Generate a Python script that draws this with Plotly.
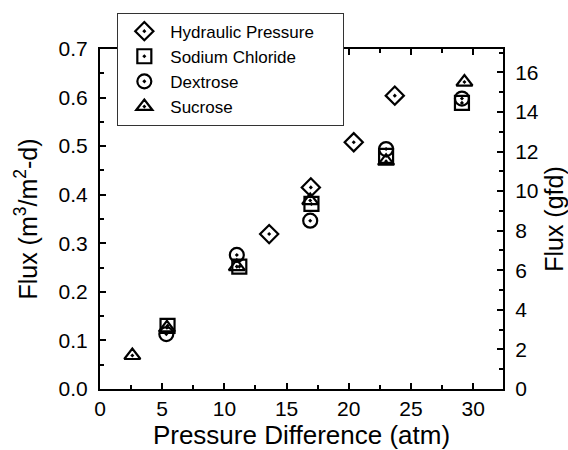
import plotly.graph_objects as go

# Data
hyd_x = [13.6, 16.95, 20.4, 23.7]
hyd_y = [0.319, 0.415, 0.508, 0.604]

nacl_x = [5.43, 11.2, 17.0, 23.0, 29.1]
nacl_y = [0.130, 0.252, 0.381, 0.480, 0.589]

dex_x = [5.33, 11.0, 16.9, 23.0, 29.1]
dex_y = [0.113, 0.276, 0.3465, 0.494, 0.598]

suc_x = [2.6, 5.38, 11.0, 16.9, 23.0, 29.3]
suc_y = [0.069, 0.126, 0.252, 0.388, 0.469, 0.632]

legend_names = ["Hydraulic Pressure", "Sodium Chloride", "Dextrose", "Sucrose"]

GFD_PER_M3M2D = 1 / 0.04074  # conversion used for the right axis

FONT = "Arial, Liberation Sans, sans-serif"
PAD = "\u00a0" * 5  # extra right padding inside the legend box

series = [
    (hyd_x, hyd_y, "diamond-open-dot"),
    (nacl_x, nacl_y, "square-open-dot"),
    (dex_x, dex_y, "circle-open-dot"),
    (suc_x, suc_y, "triangle-up-open-dot"),
]

fig = go.Figure()
for name, (xs, ys, sym) in zip(legend_names, series):
    fig.add_trace(go.Scatter(
        x=xs, y=ys, mode="markers",
        name=name + (PAD if name == legend_names[0] else ""),
        marker=dict(symbol=sym, size=14, color="black",
                    line=dict(color="black", width=2.2)),
    ))

# invisible companion trace so the right (gfd) axis is drawn
fig.add_trace(go.Scatter(
    x=suc_x, y=[v * GFD_PER_M3M2D for v in suc_y], yaxis="y2",
    mode="markers", marker=dict(opacity=0), showlegend=False,
    hoverinfo="skip",
))

ymax = 0.7
fig.update_layout(
    width=568, height=450,
    margin=dict(l=100, r=65, t=49, b=61, autoexpand=False),
    paper_bgcolor="white", plot_bgcolor="white",
    font=dict(family=FONT, color="black", size=21),
    showlegend=True,
    legend=dict(
        x=0.043, y=1.107, xanchor="left", yanchor="top",
        bgcolor="white", bordercolor="#333333", borderwidth=1,
        font=dict(size=17, family=FONT, color="black"),
        itemwidth=42, tracegroupgap=0,
    ),
    xaxis=dict(
        range=[0, 32.4], dtick=5, tick0=0, automargin=False,
        ticks="inside", ticklen=6, tickwidth=2, tickcolor="black",
        minor=dict(ticks="inside", dtick=2.5, ticklen=4, tickwidth=2, tickcolor="black"),
        showline=True, linewidth=2, linecolor="black", mirror="ticks",
        showgrid=False, zeroline=False,
        tickfont=dict(size=21),
        title=dict(text="Pressure Difference (atm)", font=dict(size=26), standoff=6),
    ),
    yaxis=dict(
        range=[0, ymax], dtick=0.1, tick0=0, tickformat=".1f", automargin=False,
        ticks="inside", ticklen=6, tickwidth=2, tickcolor="black",
        minor=dict(ticks="inside", dtick=0.05, ticklen=4, tickwidth=2, tickcolor="black"),
        showline=True, linewidth=2, linecolor="black",
        showgrid=False, zeroline=False,
        tickfont=dict(size=21), ticklabelstandoff=6,
        title=dict(text="Flux (m<sup>3</sup>/m<sup>2</sup>-d)", font=dict(size=25), standoff=14),
    ),
    yaxis2=dict(
        range=[0, ymax * GFD_PER_M3M2D], dtick=2, tick0=0, automargin=False,
        overlaying="y", side="right",
        ticks="inside", ticklen=6, tickwidth=2, tickcolor="black",
        minor=dict(ticks="inside", dtick=1, ticklen=4, tickwidth=2, tickcolor="black"),
        showline=True, linewidth=2, linecolor="black",
        showgrid=False, zeroline=False,
        tickfont=dict(size=21), ticklabelstandoff=6,
        title=dict(text="Flux (gfd)", font=dict(size=25), standoff=10),
    ),
)

fig.write_html("out.html", config={"displayModeBar": False},
               post_script="document.body.style.margin='0';")
